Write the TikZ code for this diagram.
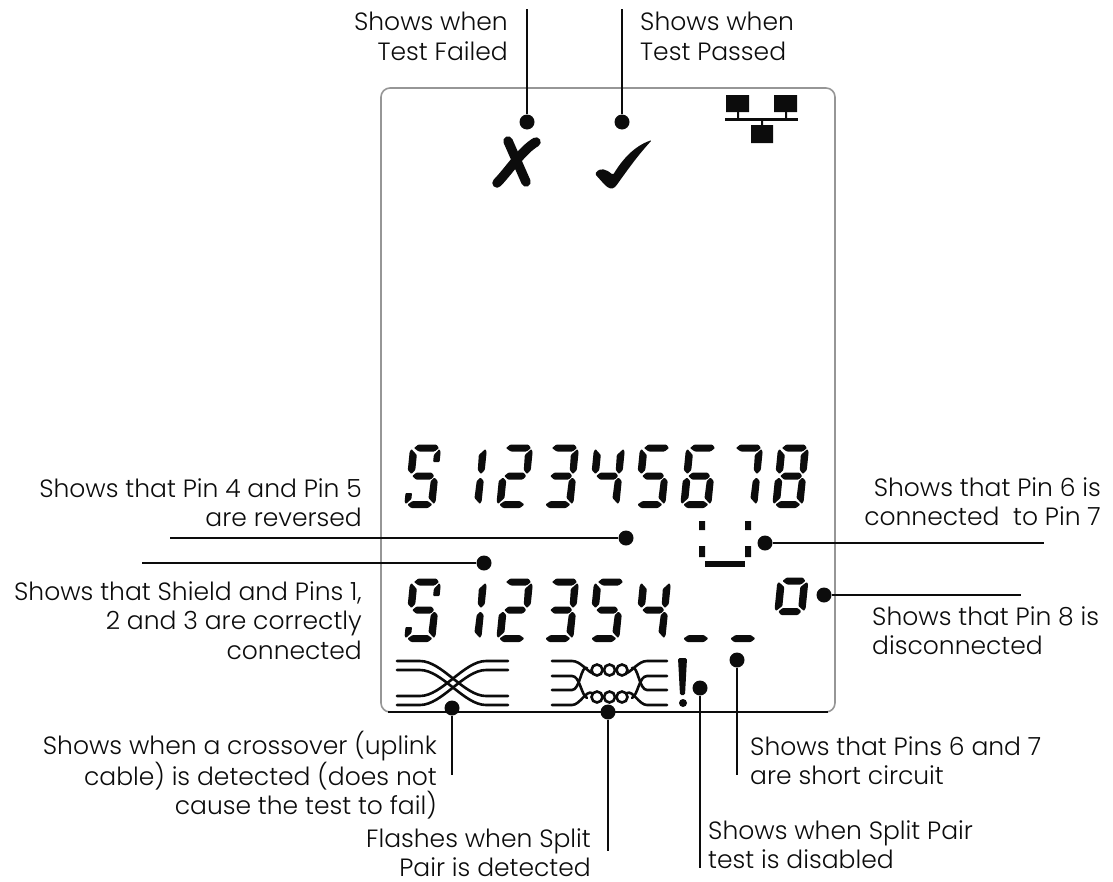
\documentclass[tikz,border=0pt]{standalone}
\usepackage{fontspec}
\setmainfont{Poppins}[UprightFont=* Light]
\usepackage{xcolor}
\usepackage{tikz}
\usetikzlibrary{positioning,calc}
\definecolor{lcdink}{RGB}{12,12,12}
\definecolor{framegray}{RGB}{150,150,150}
\tikzset{
  lcdseg/.style={fill=lcdink, rounded corners=0.9pt},
  lcdwire/.style={draw=lcdink, line width=2.6pt, line cap=round},
  leaderdot/.style={circle, fill=lcdink, inner sep=0pt, minimum size=15pt},
  leader/.style={draw=lcdink, line width=2pt},
  calloutr/.style={font=\fontsize{25}{29.5}\selectfont, text=lcdink, inner sep=0pt, align=right, anchor=north east},
  calloutl/.style={font=\fontsize{25}{29.5}\selectfont, text=lcdink, inner sep=0pt, align=left, anchor=north west}
}
% seven segments, origin at the lower left of a digit
\newcommand{\segA}{\fill[lcdseg] (3,60)--(7,63.5)--(25,63.5)--(28,60)--(24,56.5)--(8,56.5)--cycle;}
\newcommand{\segB}{\fill[lcdseg] (30,38)--(26.5,34)--(23,38)--(22.5,53)--(28.5,59)--(30,56)--cycle;}
\newcommand{\segC}{\fill[lcdseg] (30,7)--(28.5,4)--(22.5,10)--(23,27)--(26.5,30.5)--(30,27)--cycle;}
\newcommand{\segD}{\fill[lcdseg] (2,3.5)--(7,7)--(22,7)--(27,3.5)--(23,0)--(6,0)--cycle;}
\newcommand{\segE}{\fill[lcdseg] (-1,7)--(0.5,4)--(6.5,10)--(6.5,27)--(3,30.5)--(-1,27)--cycle;}
\newcommand{\segF}{\fill[lcdseg] (-1,38)--(3,34)--(6.5,38)--(6.5,53)--(0.5,59)--(-1,56)--cycle;}
\newcommand{\segG}{\fill[lcdseg] (4,32)--(8,35.5)--(23,35.5)--(26,32)--(23,28.5)--(8,28.5)--cycle;}
\newcommand{\segP}{\fill[lcdseg] (23.5,46)--(30,46)--(30,56)--(28.5,59)--(23.5,53)--cycle;}
\newcommand{\segQ}{\fill[lcdseg] (-1,6)--(0.5,4)--(5.5,9)--(5.5,15)--(-1,15)--cycle;}
\newcommand{\lcddigit}[3]{
  \begin{scope}[shift={(#1,#2)}, y=1pt, xslant=0.1]
    \foreach \s in #3 {\csname seg\s\endcsname}
  \end{scope}
}

\begin{document}
\begin{tikzpicture}[x=1pt, y=-1pt]
  \useasboundingbox (0,0) rectangle (1113,881);

  % Display frame
  \draw[framegray, line width=1.6pt, rounded corners=9pt] (381,88) rectangle (835,712);
  \draw[lcdink, line width=2.2pt] (388,712) -- (828,712);

  % Network icon
  \fill[lcdink] (726,95) rectangle (749,112) (774,95) rectangle (797,112) (751,125) rectangle (773,143);
  \fill[lcdink] (725,118) rectangle (798,121);
  \fill[lcdink] (737,112) rectangle (739,119) (785,112) rectangle (787,119) (761,120) rectangle (763,126);

  % Cross and tick
  \draw[lcdink, line width=9.5pt, line cap=round] (508,141) -- (526,182);
  \draw[lcdink, line width=9.5pt, line cap=round] (536,142) .. controls (522,150) and (508,172) .. (497,183);
  \fill[lcdink, rounded corners=1.5pt] (595,174) .. controls (600,167) and (606,169) .. (613,175)
    .. controls (622,160) and (634,146) .. (652,140)
    .. controls (638,155) and (626,172) .. (616,186)
    .. controls (612,190) and (608,188) .. (604,184) -- cycle;

  % Upper row of digits
  \foreach \px/\segs in {405/{A,F,G,C,D,P,Q}, 451/{B,C}, 497/{A,B,G,E,D}, 543/{A,B,G,C,D},
      589/{F,G,B,C}, 635/{A,F,G,C,D}, 681/{A,F,G,E,C,D}, 727/{A,B,C}, 773/{A,B,C,D,E,F,G}}
    {\lcddigit{\px}{508}{\segs}}

  % Lower row of digits
  \foreach \px/\segs in {405/{A,F,G,C,D,P,Q}, 451/{B,C}, 497/{A,B,G,E,D}, 543/{A,B,G,C,D},
      589/{A,F,G,C,D}, 635/{F,G,B,C}, 681/{D}, 728/{D}}
    {\lcddigit{\px}{642}{\segs}}

  % Small open digit
  \begin{scope}[shift={(775,615)}, y=1pt, xslant=0.1]
    \fill[lcdseg] (4,34)--(8,37.5)--(24,37.5)--(27,34)--(23,30.5)--(9,30.5)--cycle;
    \fill[lcdseg] (3,3.5)--(7,7)--(22,7)--(26,3.5)--(23,0)--(6,0)--cycle;
    \fill[lcdseg] (-1,7)--(0.5,4)--(6.5,9)--(6.5,28)--(0.5,33)--(-1,31)--cycle;
    \fill[lcdseg] (30,7)--(28.5,4)--(22.5,9)--(22.5,28)--(28.5,33)--(30,31)--cycle;
  \end{scope}

  % Short circuit marks
  \fill[lcdink] (699,521) rectangle (705,530) (745,521) rectangle (751,530);
  \fill[lcdink] (699,546) rectangle (705,557) (745,546) rectangle (751,557);
  \fill[lcdink] (705,561) rectangle (745,567);

  % Crossover icon
  \foreach \ya/\yb in {661/696, 670/705, 696/661, 705/670}
    \draw[lcdwire] (397,\ya) -- (420,\ya) .. controls (442,\ya) and (464,\yb) .. (486,\yb) -- (508,\yb);

  % Split pair icon
  \foreach \cx in {597,609.5,622} {
    \draw[lcdwire] (\cx,670) circle[radius=5.5pt];
    \draw[lcdwire] (\cx,697) circle[radius=5.5pt];
  }
  \foreach \ya/\yb/\ex in {661/673/592, 676/698/587, 690/668/587, 705/693/592} {
    \draw[lcdwire] (552,\ya) -- (572,\ya) .. controls (580,\ya) and (\ex-6,\yb-3) .. (\ex,\yb);
    \draw[lcdwire] (667,\ya) -- (647,\ya) .. controls (639,\ya) and (1219-\ex+6,\yb-3) .. (1219-\ex,\yb);
  }

  % Exclamation mark
  \fill[lcdink, rounded corners=1.5pt] (678,658) -- (687,658) -- (685,695) -- (680,695) -- cycle;
  \fill[lcdink] (683,703) circle[radius=4pt];

  % Leader dots
  \node[leaderdot] (dotfailed) at (527,122) {};
  \node[leaderdot] (dotpassed) at (622,122) {};
  \node[leaderdot] (dotreversed) at (626,538) {};
  \node[leaderdot] (dotcorrect) at (484,563) {};
  \node[leaderdot] (dotbridged) at (765,543) {};
  \node[leaderdot] (dotopen) at (824,595) {};
  \node[leaderdot] (dotcross) at (452,708) {};
  \node[leaderdot] (dotsplit) at (608,712) {};
  \node[leaderdot] (dotdisabled) at (700,688) {};
  \node[leaderdot] (dotshort) at (737,660) {};

  % Leader ends
  \coordinate (endfailed) at (527,9);
  \coordinate (endpassed) at (622,9);
  \coordinate (endreversed) at (170,538);
  \coordinate (endcorrect) at (142,563);
  \coordinate (endbridged) at (1044,543);
  \coordinate (endopen) at (1021,595);
  \coordinate (endcross) at (452,775);
  \coordinate (endsplit) at (608,851);
  \coordinate (enddisabled) at (700,868);
  \coordinate (endshort) at (737,775);

  \foreach \tag in {failed,passed,reversed,correct,bridged,open,cross,split,disabled,short}
    \draw[leader] (dot\tag) -- (end\tag);

  % Callouts
  \node[calloutr] (txtfailed) at (508,12) {Shows when\\Test Failed};
  \node[calloutl] (txtpassed) at (640,12) {Shows when\\Test Passed};
  \node[calloutr] (txtreversed) at (362,478) {Shows that Pin 4 and Pin 5\\are reversed};
  \node[calloutr] (txtcorrect) at (362,581) {Shows that Shield and Pins 1,\\2 and 3 are correctly\\connected};
  \node[calloutr] (txtbridged) at (1101,477) {Shows that Pin 6 is\\connected\ \ to Pin 7};
  \node[calloutl] (txtopen) at (872,606) {Shows that Pin 8 is\\disconnected};
  \node[calloutr] (txtcross) at (437,731) {Shows when a crossover (uplink\\cable) is detected (does not\\cause the test to fail)};
  \node[calloutr] (txtsplit) at (591,828) {Flashes when Split\\Pair is detected};
  \node[calloutl] (txtdisabled) at (708,820) {Shows when Split Pair\\test is disabled};
  \node[calloutl] (txtshort) at (750,736) {Shows that Pins 6 and 7\\are short circuit};
\end{tikzpicture}
\end{document}
